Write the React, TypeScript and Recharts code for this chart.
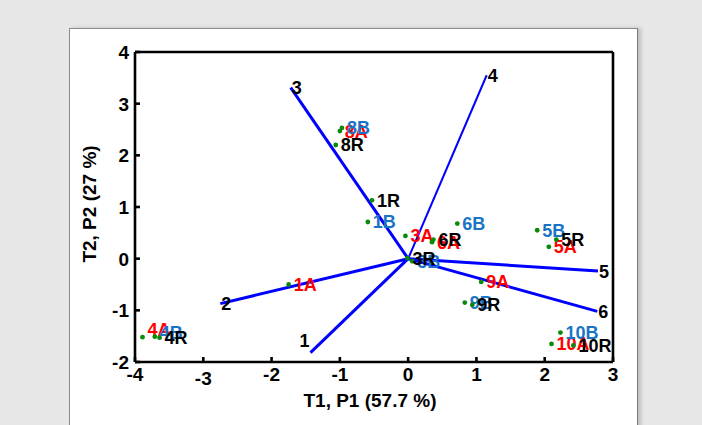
import React from 'react';
import {
  ScatterChart,
  Scatter,
  XAxis,
  YAxis,
  Label,
} from 'recharts';

// sample ids shared by the three score groups
const sampleIds = ['1', '3', '4', '5', '6', '8', '9', '10'];

// scores, suffix R
const rX = [-0.53, -0.01, -3.64, 2.17, 0.37, -1.06, 0.94, 2.42];
const rY = [1.13, 0.01, -1.53, 0.37, 0.37, 2.2, -0.89, -1.68];
// scores, suffix A
const aX = [-1.75, -0.04, -3.89, 2.06, 0.35, -1.0, 1.07, 2.1];
const aY = [-0.5, 0.44, -1.52, 0.23, 0.32, 2.47, -0.45, -1.65];
// scores, suffix B
const bX = [-0.59, 0.06, -3.71, 1.89, 0.72, -0.97, 0.83, 2.23];
const bY = [0.71, -0.05, -1.51, 0.55, 0.68, 2.53, -0.85, -1.43];

// loadings (vector end points)
const loadingNames = ['1', '2', '3', '4', '5', '6'];
const loadingX = [-1.43, -2.75, -1.72, 1.15, 2.78, 2.77];
const loadingY = [-1.82, -0.87, 3.31, 3.55, -0.24, -1.02];

const xTicks = [-4, -3, -2, -1, 0, 1, 2, 3];
const yTicks = [-2, -1, 0, 1, 2, 3, 4];

const FONT = 'Arial, "Liberation Sans", Helvetica, sans-serif';
const BLUE_TXT = '#1a74c6';

// a few labels sit a little off their point in the original (pixels)
const labelNudge: Record<string, number> = { '4A': -8, '4B': -4 };

const makeScores = (xs: number[], ys: number[], suffix: string) =>
  sampleIds.map((id, i) => ({ x: xs[i], y: ys[i], label: id + suffix }));

const scoresA = makeScores(aX, aY, 'A');
const scoresB = makeScores(bX, bY, 'B');
const scoresR = makeScores(rX, rY, 'R');

const ScorePoint = (props: any) => {
  const { cx, cy, payload, color } = props;
  if (cx == null || cy == null) return <g />;
  return (
    <g>
      <circle cx={cx} cy={cy} r={2.4} fill="#0a8a0a" />
      <text
        x={cx + 5}
        y={cy + (labelNudge[payload.label] || 0)}
        dy="0.36em"
        fill={color}
        fontFamily={FONT}
        fontWeight="bold"
        fontSize={18}
      >
        {payload.label}
      </text>
    </g>
  );
};

// only the end point of a loading carries its number
const LoadingEnd = (props: any) => {
  const { cx, cy, payload } = props;
  if (cx == null || cy == null || !payload.label) return <g />;
  const odd = payload.label === '1';
  return (
    <text
      x={odd ? cx - 11 : cx + 1}
      y={odd ? cy - 12 : cy}
      dy="0.36em"
      fill="#000"
      fontFamily={FONT}
      fontWeight="bold"
      fontSize={18}
    >
      {payload.label}
    </text>
  );
};

const XTick = (props: any) => {
  const { x, y, payload } = props;
  const drop = payload.value === -3 ? 4 : 0;
  return (
    <text x={x} y={y + drop} dy="0.71em" textAnchor="middle" fill="#000"
      fontFamily={FONT} fontWeight="bold" fontSize={19}>
      {payload.value}
    </text>
  );
};

const YTick = (props: any) => {
  const { x, y, payload } = props;
  return (
    <text x={x} y={y} dy="0.36em" textAnchor="end" fill="#000"
      fontFamily={FONT} fontWeight="bold" fontSize={19}>
      {payload.value}
    </text>
  );
};

const XTitle = () => (
  <text x={301} y={379} textAnchor="middle" fill="#000"
    fontFamily={FONT} fontWeight="bold" fontSize={19}>
    T1, P1 (57.7 %)
  </text>
);

const YTitle = () => (
  <text x={27} y={176} textAnchor="middle" fill="#000" transform="rotate(-90 27 176)"
    fontFamily={FONT} fontWeight="bold" fontSize={19}>
    T2, P2 (27 %)
  </text>
);

const frame = { stroke: '#000', strokeWidth: 2.6 };

export default function App() {
  return (
    <div style={{ position: 'fixed', left: 0, top: 0, width: 702, height: 425, background: '#e7e7e8', overflow: 'hidden' }}>
      <div
        style={{
          position: 'absolute', left: 69, top: 28, width: 567, height: 420,
          background: '#fff', borderLeft: '1px solid #8c8c8c', borderTop: '1px solid #8c8c8c',
          borderRight: '1px solid #7a7a7a', boxShadow: '3px 0 4px rgba(0,0,0,0.18)',
        }}
      />
      <div style={{ position: 'absolute', left: 69, top: 28 }}>
        <ScatterChart width={568} height={397} margin={{ top: 23, right: 23, bottom: 13, left: 26 }}>
          <XAxis dataKey="x" type="number" domain={[-4, 3]} ticks={xTicks} interval={0}
            allowDataOverflow height={50} tickSize={-5} tickMargin={11}
            axisLine={frame} tickLine={frame} tick={<XTick />}>
            <Label content={<XTitle />} />
          </XAxis>
          <YAxis dataKey="y" type="number" domain={[-2, 4]} ticks={yTicks} interval={0}
            allowDataOverflow width={40} tickSize={-5} tickMargin={11}
            axisLine={frame} tickLine={frame} tick={<YTick />}>
            <Label content={<YTitle />} />
          </YAxis>
          <XAxis xAxisId="top" orientation="top" dataKey="x" type="number" domain={[-4, 3]}
            ticks={xTicks} interval={0} allowDataOverflow height={1} tickSize={-5}
            axisLine={frame} tickLine={frame} tick={false} />
          <YAxis yAxisId="right" orientation="right" dataKey="y" type="number" domain={[-2, 4]}
            ticks={yTicks} interval={0} allowDataOverflow width={1} tickSize={-5}
            axisLine={frame} tickLine={frame} tick={false} />

          {loadingNames.map((name, i) => (
            <Scatter
              key={'load-' + name}
              data={[{ x: 0, y: 0, label: '' }, { x: loadingX[i], y: loadingY[i], label: name }]}
              line={{ stroke: '#0000ff', strokeWidth: name === '4' ? 2 : 3 }}
              shape={<LoadingEnd />}
              isAnimationActive={false}
            />
          ))}

          <Scatter data={scoresA} shape={<ScorePoint color="#ff0000" />} isAnimationActive={false} />
          <Scatter data={scoresB} shape={<ScorePoint color={BLUE_TXT} />} isAnimationActive={false} />
          <Scatter data={scoresR} shape={<ScorePoint color="#000" />} isAnimationActive={false} />
        </ScatterChart>
      </div>
    </div>
  );
}
